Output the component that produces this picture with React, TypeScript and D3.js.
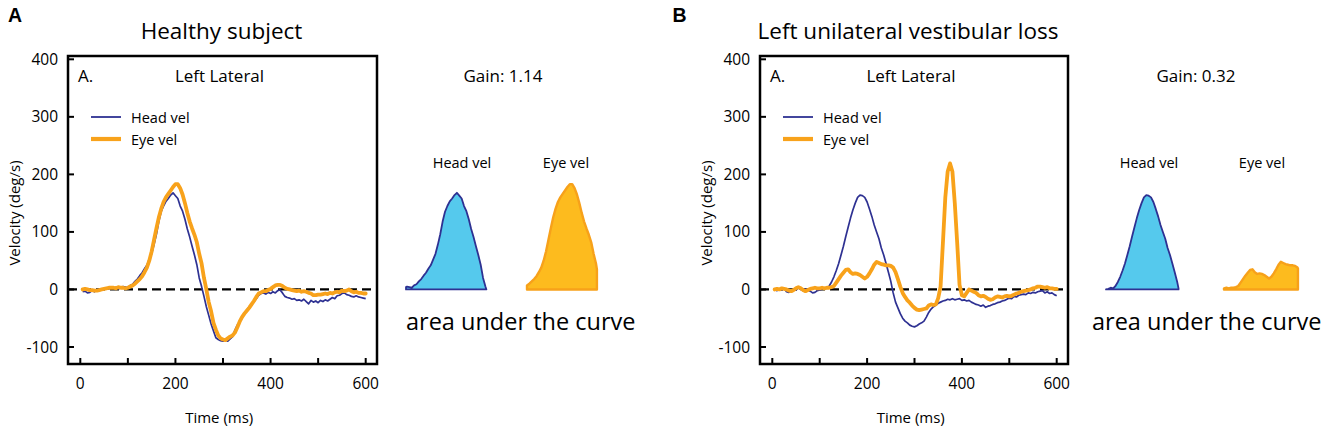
import React from 'react';
import * as d3 from 'd3';

// ---------- data ----------
const SAMPLE_MS: number[] = d3.range(5, 601, 5); // 5 .. 600 ms

const headA = [
  -4, -3, -6, -5, -2, -4, 0, -1, 1, 0, 2, 1, 3, 2, 4, 1, 3, 5, 4, 3,
  7, 9, 14, 18, 24, 29, 36, 42, 52, 62, 78, 96, 118, 135, 145, 153, 158, 164, 168, 163,
  158, 145, 136, 122, 105, 91, 75, 60, 43, 20, 5, -12, -30, -45, -60, -72, -84, -87, -89, -90,
  -88, -90, -86, -82, -71, -62, -56, -50, -41, -36, -30, -26, -21, -16, -10, -7, -6, -8, -5, -7,
  -4, -6, -2, -1, -6, -12, -14, -15, -17, -16, -19, -18, -20, -17, -21, -25, -19, -22, -20, -23,
  -19, -21, -18, -20, -17, -14, -16, -11, -10, -7, -6, -9, -10, -12, -13, -11, -13, -14, -15, -16,
];
const eyeA = [
  0, 1, 0, -1, -1, -2, -2, -1, 0, 1, 2, 3, 3, 3, 2, 4, 3, 3, 2, 3,
  5, 7, 10, 14, 18, 23, 30, 38, 50, 66, 86, 106, 125, 140, 152, 160, 166, 172, 178, 183,
  183, 176, 165, 150, 133, 118, 106, 95, 82, 62, 45, 20, 0, -22, -38, -58, -70, -80, -85, -87,
  -88, -85, -82, -80, -75, -66, -56, -48, -42, -37, -32, -26, -20, -13, -7, -5, -3, -3, -1, 1,
  4, 7, 8, 8, 6, 3, 1, 0, -1, -2, -3, -2, -4, -3, -4, -6, -7, -10, -10, -9,
  -9, -8, -7, -8, -6, -7, -5, -4, -5, -2, -3, -2, 0, -3, -5, -4, -6, -6, -7, -7,
];
const headB = [
  0, -2, 1, -1, 2, -4, -5, -2, 1, -1, 3, 0, -2, 1, -1, -3, -6, -5, -2, -1,
  1, 3, 2, 6, 13, 22, 33, 45, 60, 75, 92, 108, 124, 138, 150, 160, 164, 163, 160, 152,
  140, 127, 112, 100, 88, 72, 60, 45, 30, 14, -6, -22, -32, -42, -50, -55, -58, -62, -64, -65,
  -63, -60, -58, -55, -48, -40, -34, -30, -27, -24, -22, -20, -19, -17, -18, -16, -18, -17, -16, -19,
  -18, -20, -19, -22, -24, -26, -27, -29, -27, -31, -29, -28, -26, -25, -23, -22, -20, -19, -17, -15,
  -16, -12, -13, -10, -9, -8, -9, -6, -7, -5, -6, -4, -3, -2, -6, -4, -7, -6, -9, -11,
];
const eyeB = [
  0, 1, 0, 2, 1, 0, -2, -3, -1, 2, 4, 2, -1, -3, -1, 1, 2, 3, 2, 2,
  3, 2, 3, 3, 4, 6, 12, 18, 24, 29, 34, 35, 30, 27, 28, 27, 25, 22, 19, 22,
  28, 35, 43, 48, 46, 44, 43, 42, 42, 41, 38, 30, 18, 5, -6, -13, -19, -23, -28, -32,
  -35, -36, -35, -34, -33, -28, -26, -27, -26, -15, 5, 82, 160, 205, 219, 205, 150, 82, 8, -10,
  -12, -6, 0, -2, -4, -6, -10, -12, -11, -13, -16, -18, -17, -14, -12, -13, -14, -12, -11, -12,
  -11, -9, -7, -6, -4, -3, -2, -1, 0, 2, 3, 5, 5, 4, 3, 4, 2, 2, 1, 1,
];

const Y_TICKS = [-100, 0, 100, 200, 300, 400];
const X_TICKS = [0, 100, 200, 300, 400, 500, 600];
const X_LABELS = [0, 200, 400, 600];

const PANEL_LETTERS = ['A', 'B'];
const TITLES = ['Healthy subject', 'Left unilateral vestibular loss'];
const GAINS = ['Gain: 1.14', 'Gain: 0.32'];
const HEAD_SERIES = [headA, headB];
const EYE_SERIES = [eyeA, eyeB];
// time windows (ms) of the curve segments shown as "area under the curve"
const HEAD_WINDOWS: [number, number][] = [[88, 257], [100, 253]];
const EYE_WINDOWS: [number, number][] = [[110, 257], [100, 256]];

// ---------- layout ----------
const LAYOUT = [
  { box: [68, 56, 377, 364], xr: [80.3, 365.7], letterX: 8, titleX: 221.5, yLabX: 19.5, tickLabX: 58,
    legX: 91, aX: 78, llX: 219.5, gainX: 503, headLabX: 462, eyeLabX: 566, headAreaX: 406, eyeAreaX: 527, aucX: 406 },
  { box: [760, 56, 1068, 364], xr: [772.3, 1056.7], letterX: 672.5, titleX: 908, yLabX: 711.5, tickLabX: 750,
    legX: 783, aX: 770, llX: 911, gainX: 1196, headLabX: 1149, eyeLabX: 1262, headAreaX: 1106, eyeAreaX: 1224, aucX: 1092 },
];

const BLUE = '#2e3192';
const ORANGE = '#f8a21b';
const HEAD_FILL = '#55c9ed';
const EYE_FILL = '#fdbb1e';
const EYE_STROKE = '#f7a11a';
const FONT = '"Open Sans", "Noto Sans", sans-serif';

function windowed(vals: number[], t0: number, t1: number): [number, number][] {
  const interp = (t: number) => {
    const i = d3.bisectLeft(SAMPLE_MS, t);
    if (i <= 0) return vals[0];
    if (i >= SAMPLE_MS.length) return vals[vals.length - 1];
    const ta = SAMPLE_MS[i - 1], tb = SAMPLE_MS[i];
    return vals[i - 1] + ((vals[i] - vals[i - 1]) * (t - ta)) / (tb - ta);
  };
  const pts: [number, number][] = [[t0, interp(t0)]];
  SAMPLE_MS.forEach((t, i) => { if (t > t0 && t < t1) pts.push([t, vals[i]]); });
  pts.push([t1, interp(t1)]);
  return pts.map(([t, v]) => [t, Math.max(0, v)] as [number, number]);
}

function Panel({ idx }: { idx: number }) {
  const L = LAYOUT[idx];
  const [bx0, by0, bx1, by1] = L.box;
  const x = d3.scaleLinear().domain([0, 600]).range(L.xr);
  const y = d3.scaleLinear().domain([-100, 400]).range([347, 59.3]);
  const head = HEAD_SERIES[idx];
  const eye = EYE_SERIES[idx];
  const line = d3.line<number>().x((_, i) => x(SAMPLE_MS[i])).y((v) => y(v));

  const makeArea = (vals: number[], win: [number, number], left: number) => {
    const dx = left - x(win[0]);
    const a = d3.area<[number, number]>()
      .x((d) => x(d[0]) + dx)
      .y0(y(0))
      .y1((d) => y(d[1]));
    return a(windowed(vals, win[0], win[1])) + 'Z';
  };

  return (
    <g>
      <text x={L.letterX} y={22} fontFamily='"Liberation Sans", Arial, sans-serif' fontWeight="bold" fontSize={19.5}>
        {PANEL_LETTERS[idx]}
      </text>
      <text x={L.titleX} y={39} textAnchor="middle" fontSize={22.5}>{TITLES[idx]}</text>

      {/* zero line */}
      <line x1={bx0} x2={bx1} y1={y(0)} y2={y(0)} stroke="#000" strokeWidth={2.2} strokeDasharray="9,5" />

      {/* curves */}
      <path d={line(head) || ''} fill="none" stroke={BLUE} strokeWidth={1.7} strokeLinejoin="round" />
      <path d={line(eye) || ''} fill="none" stroke={ORANGE} strokeWidth={3.8} strokeLinejoin="round" strokeLinecap="round" />

      {/* frame */}
      <rect x={bx0} y={by0} width={bx1 - bx0} height={by1 - by0} fill="none" stroke="#000" strokeWidth={2.5} />

      {/* y ticks */}
      {Y_TICKS.map((t) => (
        <g key={'y' + t}>
          <line x1={bx0} x2={bx0 + 6} y1={y(t)} y2={y(t)} stroke="#000" strokeWidth={2} />
          <text x={L.tickLabX} y={y(t) + 5.5} textAnchor="end" fontSize={15.5}>{t}</text>
        </g>
      ))}
      {/* x ticks */}
      {X_TICKS.map((t) => (
        <line key={'x' + t} x1={x(t)} x2={x(t)} y1={by1} y2={by1 - 6} stroke="#000" strokeWidth={2} />
      ))}
      {X_LABELS.map((t) => (
        <text key={'xl' + t} x={x(t)} y={389} textAnchor="middle" fontSize={15.5}>{t}</text>
      ))}

      <text transform={`translate(${L.yLabX},213) rotate(-90)`} textAnchor="middle" fontSize={15}>Velocity (deg/s)</text>
      <text x={(L.xr[0] + L.xr[1]) / 2 - 3.8} y={423} textAnchor="middle" fontSize={15}>Time (ms)</text>

      <text x={L.aX} y={82} fontSize={17}>A.</text>
      <text x={L.llX} y={82} textAnchor="middle" fontSize={17}>Left Lateral</text>

      {/* legend */}
      <line x1={L.legX} x2={L.legX + 30} y1={117} y2={117} stroke={BLUE} strokeWidth={1.8} />
      <text x={L.legX + 40} y={122.5} fontSize={14.5}>Head vel</text>
      <line x1={L.legX} x2={L.legX + 30} y1={139} y2={139} stroke={ORANGE} strokeWidth={4.2} />
      <text x={L.legX + 40} y={144.5} fontSize={14.5}>Eye vel</text>

      {/* gain & areas */}
      <text x={L.gainX} y={82} textAnchor="middle" fontSize={17}>{GAINS[idx]}</text>
      <text x={L.headLabX} y={167.5} textAnchor="middle" fontSize={14.5}>Head vel</text>
      <text x={L.eyeLabX} y={167.5} textAnchor="middle" fontSize={14.5}>Eye vel</text>
      <path d={makeArea(head, HEAD_WINDOWS[idx], L.headAreaX)} fill={HEAD_FILL} stroke={BLUE} strokeWidth={1.8} strokeLinejoin="round" />
      <path d={makeArea(eye, EYE_WINDOWS[idx], L.eyeAreaX)} fill={EYE_FILL} stroke={EYE_STROKE} strokeWidth={2.4} strokeLinejoin="round" />
      <text x={L.aucX} y={330} fontSize={23.5}>area under the curve</text>
    </g>
  );
}

export default function App() {
  return (
    <svg width={1325} height={434} viewBox="0 0 1325 434"
      style={{ position: 'absolute', left: 0, top: 0, background: '#fff' }}
      fontFamily={FONT} fill="#000">
      <rect x={0} y={0} width={1325} height={434} fill="#fff" />
      <Panel idx={0} />
      <Panel idx={1} />
    </svg>
  );
}
